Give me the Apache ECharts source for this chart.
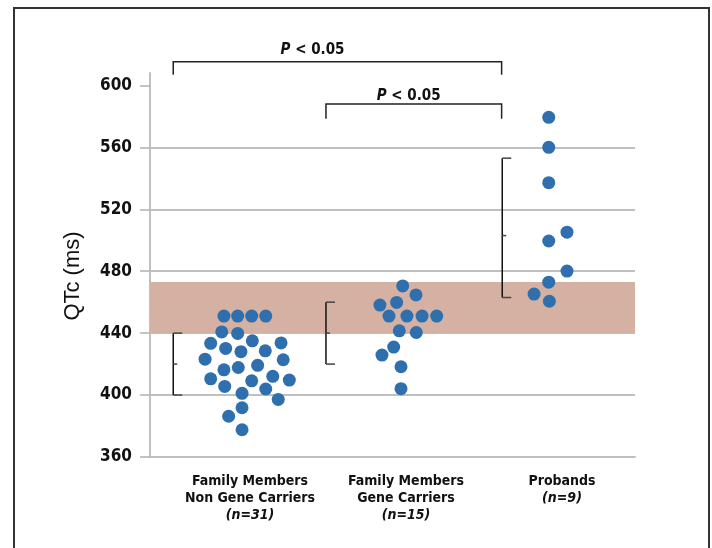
<!DOCTYPE html>
<html><head><meta charset="utf-8">
<script src="https://cdn.jsdelivr.net/npm/echarts@6/dist/echarts.min.js"></script>
<style>html,body{margin:0;padding:0;background:#fff}#c{width:712px;height:548px}</style>
</head><body><div id="c"></div>
<script>
// Group label positions on the x axis (group centres)
const groupX = [1, 2, 3];
const groupLines = [
  ['Family Members', 'Non Gene Carriers', '(n=31)'],
  ['Family Members', 'Gene Carriers', '(n=15)'],
  ['Probands', '(n=9)']
];
const yTicks = [360, 400, 440, 480, 520, 560, 600];

// Dots: [x position (beeswarm), QTc]
const nonCarriers = [
  [0.833,451],[0.921,451],[1.011,451],[1.101,451],
  [0.819,440.8],[0.921,439.8],
  [0.748,433.4],[1.015,435],[1.199,433.7],
  [0.844,430.1],[0.942,428],[1.098,428.6],
  [0.712,423.2],[1.213,422.8],
  [0.833,416.3],[0.925,417.8],[1.049,419.2],
  [0.748,410.5],[1.011,409.2],[1.146,412.1],[1.252,409.7],
  [0.838,405.6],[1.101,403.9],
  [0.949,401.1],[1.181,397.2],[0.949,391.8],[0.863,386.3],[0.949,377.6]
];
const carriers = [
  [1.979,470.5],[2.064,464.7],[1.833,458.1],[1.940,459.8],
  [1.891,451],[2.006,451],[2.103,451],[2.197,451],
  [1.957,441.5],[2.066,440.4],
  [1.921,431],[1.846,425.8],[1.968,418.3],[1.968,404.1]
];
const probands = [
  [2.915,579.4],[2.915,560],[2.915,537.2],[3.032,505.2],[2.915,499.5],
  [3.032,480.1],[2.915,472.9],[2.821,465.2],[2.919,460.6]
];

// Range markers: [x, low, mid, high]
const ranges = [
  [0.508, 400, 420, 440],
  [1.487, 420, 440, 460],
  [2.617, 463, 503, 553]
];
// Normal band (ms)
const normalBand = [440, 473];

// Significance brackets: [x1, x2, yLine, yLegEnd]
const sigBrackets = [
  [0.508, 2.613, 615.2, 606.8],
  [1.487, 2.613, 588, 578.4]
];
// Significance labels: [x, y, text]
const sigLabels = [
  [1.401, 623, 'P < 0.05'],
  [2.017, 593, 'P < 0.05']
];

const FONT = "'Liberation Sans Narrow', 'DejaVu Sans Condensed', 'Roboto Condensed', 'Liberation Sans', sans-serif";
const dotColor = '#2f6fae';

const chart = echarts.init(document.getElementById('c'), null, {renderer: 'canvas'});

function renderRange(params, api) {
  const x = api.value(0);
  const lo = api.coord([x, api.value(1)]);
  const mid = api.coord([x, api.value(2)]);
  const hi = api.coord([x, api.value(3)]);
  const st = {stroke: '#111', lineWidth: 1.5};
  const st2 = {stroke: '#444', lineWidth: 1.5};
  return {type: 'group', children: [
    {type: 'line', shape: {x1: lo[0], y1: lo[1], x2: hi[0], y2: hi[1]}, style: st},
    {type: 'line', shape: {x1: hi[0], y1: hi[1], x2: hi[0] + 9, y2: hi[1]}, style: st2},
    {type: 'line', shape: {x1: lo[0], y1: lo[1], x2: lo[0] + 9, y2: lo[1]}, style: st2},
    {type: 'line', shape: {x1: mid[0], y1: mid[1], x2: mid[0] + 4, y2: mid[1]}, style: st2}
  ]};
}
function renderSig(params, api) {
  const a = api.coord([api.value(0), api.value(2)]);
  const b = api.coord([api.value(1), api.value(2)]);
  const e = api.coord([api.value(0), api.value(3)]);
  return {type: 'polyline', shape: {points: [[a[0], e[1]], a, b, [b[0], e[1]]]},
    style: {stroke: '#222', lineWidth: 1.5, fill: null}};
}
function renderSigLabel(params, api) {
  const p = api.coord([api.value(0), api.value(1)]);
  return {type: 'text', x: p[0], y: p[1], style: {
    text: '{p|P} < 0.05', fontFamily: FONT, fontSize: 15, fontWeight: 'bold', fill: '#111',
    align: 'center', verticalAlign: 'middle',
    rich: {p: {fontFamily: FONT, fontSize: 15, fontWeight: 'bold', fontStyle: 'italic', fill: '#111'}}
  }};
}

const option = {
  backgroundColor: '#fff',
  animation: false,
  graphic: [{type: 'rect', shape: {x: 14, y: 8, width: 695, height: 600},
    style: {fill: null, stroke: '#333', lineWidth: 2}, z: 100}],
  grid: {left: 150, right: 77, top: 73, bottom: 91},
  xAxis: {
    type: 'value', min: 0.359, max: 3.468,
    axisLine: {show: true, onZero: false, lineStyle: {color: '#c0c0c0', width: 2}},
    axisTick: {show: false},
    splitLine: {show: false},
    axisLabel: {
      customValues: groupX, margin: 16,
      formatter: function (v) {
        const i = Math.round(v) - 1;
        const lines = groupLines[i];
        return lines.map(function (s) { return s.charAt(0) === '(' ? '{i|' + s + '}' : '{b|' + s + '}'; }).join('\n');
      },
      rich: {
        b: {fontFamily: FONT, fontSize: 14, fontWeight: 'bold', color: '#111', lineHeight: 17},
        i: {fontFamily: FONT, fontSize: 14, fontWeight: 'bold', fontStyle: 'italic', color: '#111', lineHeight: 17}
      }
    }
  },
  yAxis: {
    type: 'value', min: 360, max: 608,
    name: 'QTc (ms)', nameLocation: 'middle', nameGap: 66,
    nameTextStyle: {fontFamily: 'Liberation Sans', fontSize: 22, color: '#111', padding: [0, 22, 0, 0]},
    axisLine: {show: true, lineStyle: {color: '#c0c0c0', width: 2}},
    axisTick: {show: true, customValues: yTicks, length: 10, lineStyle: {color: '#b0b0b0', width: 1.5}},
    axisLabel: {customValues: yTicks, margin: 18, fontFamily: FONT, fontSize: 17, fontWeight: 'bold', color: '#111'},
    splitLine: {show: true, showMaxLine: false, lineStyle: {color: '#c0c0c0', width: 2}}
  },
  series: [
    {type: 'scatter', data: [], z: 1, silent: true,
      markArea: {silent: true, itemStyle: {color: '#d5b1a4', opacity: 1},
        data: [[{yAxis: normalBand[0]}, {yAxis: normalBand[1]}]]}},
    {type: 'scatter', data: nonCarriers, symbolSize: 13, itemStyle: {color: dotColor, opacity: 1}, z: 5},
    {type: 'scatter', data: carriers, symbolSize: 13, itemStyle: {color: dotColor, opacity: 1}, z: 5},
    {type: 'scatter', data: probands, symbolSize: 13, itemStyle: {color: dotColor, opacity: 1}, z: 5},
    {type: 'custom', data: ranges, renderItem: renderRange, clip: false, z: 6, silent: true},
    {type: 'custom', data: sigBrackets, renderItem: renderSig, clip: false, z: 6, silent: true},
    {type: 'custom', data: sigLabels, renderItem: renderSigLabel, clip: false, z: 6, silent: true}
  ]
};
chart.setOption(option);
</script>
</body></html>
